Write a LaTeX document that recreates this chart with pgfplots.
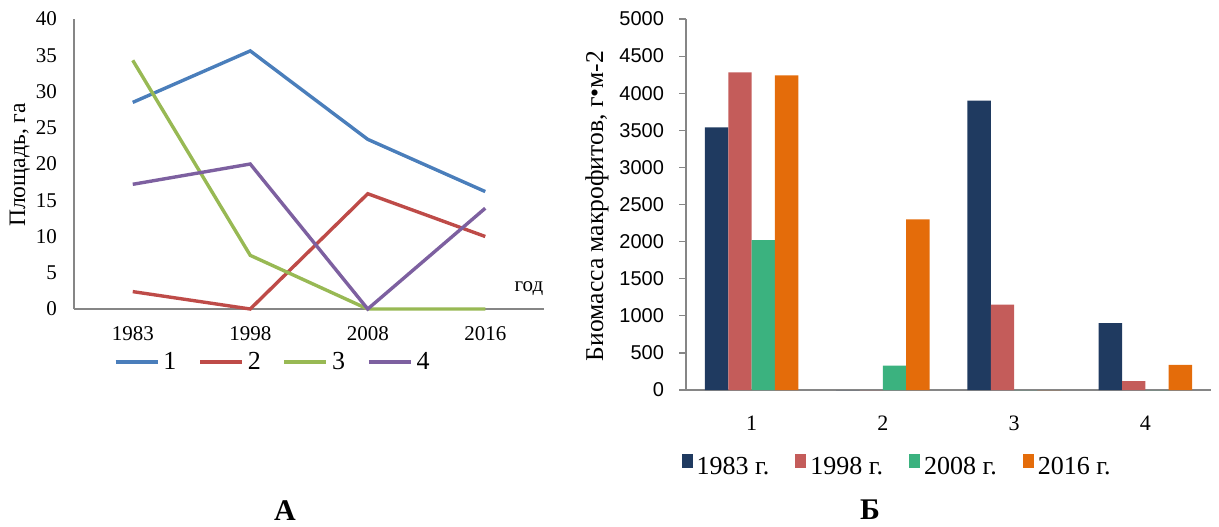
\documentclass[border=0pt]{standalone}
\usepackage{pgfplots}
\pgfplotsset{compat=1.18}
\usepackage{fontspec}
\setmainfont{Liberation Serif}
\newfontfamily\sansf{Liberation Sans}
\definecolor{axgray}{HTML}{868686}
\definecolor{cA}{HTML}{4A7EBB}
\definecolor{cB}{HTML}{BE4B48}
\definecolor{cC}{HTML}{98B954}
\definecolor{cD}{HTML}{7D60A0}
\definecolor{bA}{HTML}{1F3A60}
\definecolor{bB}{HTML}{C45C5A}
\definecolor{bC}{HTML}{3BB27F}
\definecolor{bD}{HTML}{E46C0A}
\begin{document}
\begin{tikzpicture}
\begin{axis}[
  at={(37pt,108.5pt)}, anchor=south west, scale only axis,
  width=235pt, height=145pt,
  xmin=-0.5, xmax=3.5, ymin=0, ymax=40,
  ytick={0,5,...,40}, xtick={0,1,2,3}, xticklabels={1983,1998,2008,2016},
  axis x line*=bottom, axis y line*=left,
  axis line style={draw=axgray, line width=0.6pt},
  major tick length=0pt,
  /pgf/number format/assume math mode=true,
  tick label style={font=\fontsize{10.5}{12}\selectfont},
  yticklabel style={xshift=-5pt}, xticklabel style={yshift=-5pt},
  ylabel={Площадь, га},
  ylabel style={at={(axis description cs:-0.115,0.497)}, anchor=center, font=\fontsize{11.8}{13}\selectfont},
  legend style={at={(axis description cs:0.425,-0.183)}, anchor=center, draw=none, fill=none,
    legend columns=4, font=\fontsize{13}{15}\selectfont,
    /tikz/every even column/.append style={column sep=9pt}},
  legend image code/.code={\draw[#1, line width=1.7pt] (0pt,0pt) -- (21pt,0pt);},
  clip=false,
]
\addplot[cA, line width=1.7pt] coordinates {(0,28.5) (1,35.6) (2,23.4) (3,16.2)};
\addplot[cB, line width=1.7pt] coordinates {(0,2.4) (1,0) (2,15.9) (3,10.0)};
\addplot[cC, line width=1.7pt] coordinates {(0,34.3) (1,7.4) (2,0) (3,0)};
\addplot[cD, line width=1.7pt] coordinates {(0,17.2) (1,20.0) (2,0) (3,13.9)};
\legend{1,2,3,4}
\node[font=\fontsize{10.5}{12}\selectfont] at (axis description cs:0.968,0.072) {год};
\end{axis}

\begin{axis}[
  at={(343pt,68pt)}, anchor=south west, scale only axis,
  width=262.5pt, height=185.5pt,
  xmin=0.5, xmax=4.5, ymin=0, ymax=5000,
  ytick={0,500,...,5000}, xtick={1,2,3,4},
  minor xtick={0.5,1.5,2.5,3.5},
  scaled ticks=false,
  /pgf/number format/.cd, set thousands separator={}, assume math mode=true, /pgfplots/.cd,
  axis x line*=bottom, axis y line*=left,
  axis line style={draw=axgray, line width=0.6pt},
  tick align=outside,
  major tick length=3.5pt, minor tick length=3.5pt,
  xtick style={draw=none}, minor tick style={draw=axgray, line width=0.6pt},
  ytick style={draw=axgray, line width=0.6pt},
  yticklabel style={font=\sansf\fontsize{10}{12}\selectfont, xshift=-4pt},
  xticklabel style={font=\fontsize{11}{12}\selectfont, yshift=-6pt},
  ybar=0pt, bar width=11.67pt,
  ylabel={Биомасса макрофитов, г•м-2},
  ylabel style={at={(axis description cs:-0.1695,0.496)}, anchor=center, font=\fontsize{12.8}{14}\selectfont},
  legend style={at={(axis description cs:0.404,-0.208)}, anchor=center, draw=none, fill=none,
    legend columns=4, font=\fontsize{13}{15}\selectfont,
    /tikz/every even column/.append style={column sep=11pt}},
  legend image code/.code={\fill[#1] (0pt,-0.5pt) rectangle (5.5pt,6.5pt);},
  clip=false,
]
\addplot[fill=bA, draw=none] coordinates {(1,3540) (2,0) (3,3900) (4,900)};
\addplot[fill=bB, draw=none] coordinates {(1,4280) (2,0) (3,1150) (4,120)};
\addplot[fill=bC, draw=none] coordinates {(1,2020) (2,330) (3,0) (4,0)};
\addplot[fill=bD, draw=none] coordinates {(1,4240) (2,2300) (3,0) (4,340)};
\legend{1983 г.,1998 г.,2008 г.,2016 г.}
\end{axis}

\node[font=\bfseries\fontsize{15}{17}\selectfont] at (142.5pt,7.5pt) {А};
\node[font=\bfseries\fontsize{15}{17}\selectfont] at (435pt,8pt) {Б};

\pgfresetboundingbox
\useasboundingbox (0,0) rectangle (609.5pt,263pt);
\end{tikzpicture}
\end{document}
